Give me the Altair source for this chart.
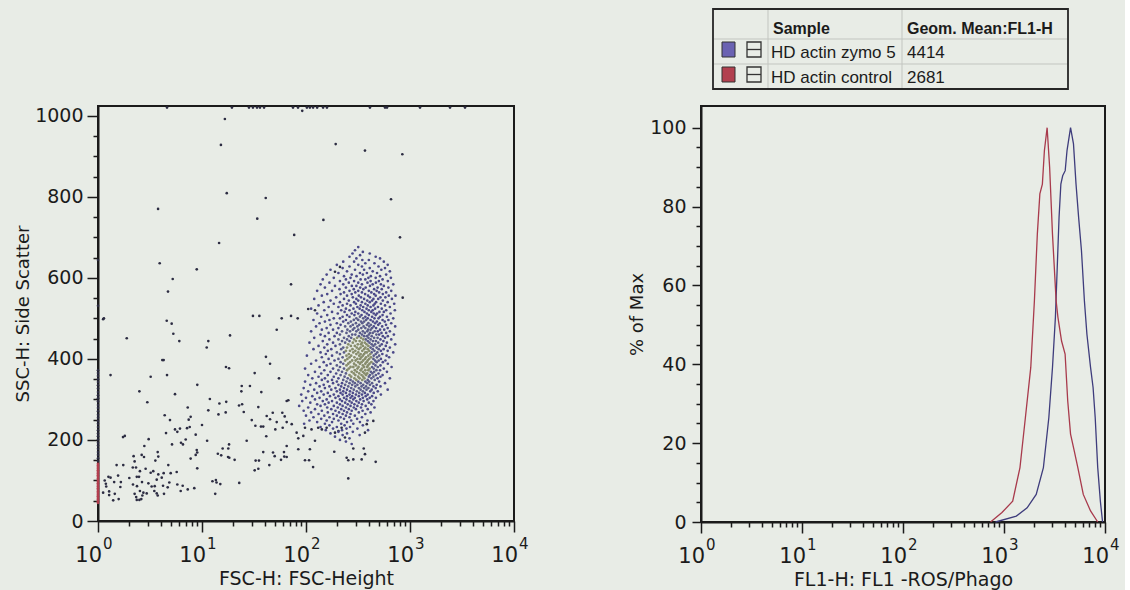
import altair as alt
import pandas as pd

# ---------------------------------------------------------------- data
# Left panel: isolated events (FSC-H, SSC-H)
SPARSE_EVENTS = [
    (16.6, 992), (15.2, 928), (17.3, 809), (41.0, 797), (3.78, 770), (34.0, 746), (14.6, 686),
    (3.92, 636), (8.9, 621), (5.23, 597), (4.71, 566), (92, 1012), (193, 930), (369, 914),
    (844, 905), (657, 794), (147, 743), (77, 706), (801, 700), (851, 551), (71.8, 584),
    (212, 627), (190, 615), (30.9, 506), (35.6, 506), (58.4, 500), (71.8, 506), (83.2, 500),
    (105, 523), (122, 520), (52.3, 472), (4.58, 494), (5.11, 487), (5.3, 462), (6.05, 444),
    (1.89, 451), (11.5, 444), (11.1, 428), (18.6, 458), (1.12, 498), (1.14, 500),
    (41.2, 405), (45.1, 388), (4.15, 397), (4.28, 397), (17.0, 380), (18.2, 377), (32.1, 365),
    (1.32, 360), (4.61, 360), (55.0, 352), (3.21, 356), (9.01, 336), (24.1, 333), (28.9, 333),
    (2.50, 320), (37.2, 318), (23.9, 320), (5.5, 313), (11.9, 301), (67.6, 298), (2.98, 293),
    (14.7, 290), (17.1, 294), (24.3, 288), (22.7, 285), (7.29, 280), (34.8, 281), (11.5, 273),
    (16.9, 268), (14.4, 263), (25.2, 269), (47.9, 267), (59.2, 267), (4.38, 261), (7.78, 257),
    (7.45, 250), (41.9, 259), (62.4, 258), (4.92, 249), (30.1, 249), (45.1, 251), (52.3, 244),
    (65.2, 244), (10.0, 237), (7.62, 232), (7.18, 229), (6.14, 228), (5.5, 226), (32.6, 235),
    (36.9, 233), (38.8, 233), (59.7, 230), (4.51, 217), (5.79, 220), (8.7, 213), (50.7, 226),
    (1.81, 210), (1.74, 207), (41.5, 209), (6.97, 201), (3.07, 202), (11.2, 198), (26.9, 198),
    (6.28, 193), (6.56, 189), (5.15, 189), (18.2, 189), (17.9, 179), (15.8, 179), (2.79, 185),
    (65.2, 185), (8.9, 175), (9.0, 169), (8.7, 163), (38.8, 170), (48.2, 169), (61.4, 170),
    (65.2, 158), (14.2, 166), (15.3, 162), (18.3, 156), (17.8, 158), (2.20, 160), (2.63, 163),
    (2.77, 158), (3.75, 170), (3.80, 159), (50.0, 160), (7.78, 154), (20.6, 151), (57.5, 151),
    (61.8, 159), (1.75, 138), (3.56, 149), (1.51, 138), (2.25, 147), (4.74, 138), (32.8, 149),
    (35.3, 149), (44.4, 138), (9.0, 130), (34.8, 129), (32.1, 125), (2.16, 132), (2.32, 132),
    (2.87, 129), (2.53, 123), (3.21, 119), (3.40, 123), (3.80, 115), (4.28, 118), (5.0, 118),
    (5.71, 121), (1.26, 109), (1.32, 107), (1.56, 112), (2.0, 106), (2.36, 109), (2.48, 109),
    (3.67, 102), (4.10, 107), (1.66, 96), (1.43, 96), (1.16, 100), (1.19, 92), (3.05, 93),
    (2.65, 96), (4.85, 95), (5.79, 90), (6.52, 87), (7.29, 78), (12.6, 98), (13.6, 101),
    (13.8, 95), (15.0, 91), (22.8, 94), (2.17, 90), (2.37, 86), (4.22, 87), (4.68, 83),
    (3.51, 86), (3.28, 85), (1.64, 84), (1.20, 85), (1.28, 73), (1.45, 67), (2.53, 74),
    (2.73, 70), (2.94, 68), (2.67, 63), (2.25, 67), (2.33, 59), (2.36, 52), (2.50, 52),
    (2.61, 54), (3.48, 74), (3.67, 68), (4.31, 67), (3.75, 63), (6.24, 74), (8.43, 81),
    (13.4, 67), (1.28, 64), (1.40, 51), (1.58, 54), (1.12, 70),
    (65.2, 296), (72.9, 239), (81.3, 218), (84.3, 204), (94.2, 210), (84.3, 177), (109, 177),
    (97.8, 150), (107, 150), (117, 133), (122, 198), (187, 171), (246, 156), (255, 150),
    (285, 152), (285, 179), (343, 152), (359, 179), (369, 165), (468, 146), (255, 105),
    (444, 247), (369, 218), (384, 239), (190, 218), (205, 222), (220, 230), (237, 206),
    (131, 230), (142, 226), (158, 230), (97.8, 230), (113, 226),
]

# events piled up at the top of the SSC range (off-scale, shown on the frame)
TOP_FSC = [4.61, 19.4, 28.3, 30.9, 33.8, 36.1, 39.5, 75, 83.8, 102, 109, 117, 128, 146, 159,
           412, 575, 601, 1248, 2426, 3380]
TOP_SSC = 1020

# events piled up at FSC = 1 (left edge of the plot)
EDGE_SSC = [644, 531, 372, 365, 358, 350, 343, 335, 327, 318, 310, 303, 295, 286, 279, 271,
            262, 255, 247, 240, 232, 224, 216, 209, 201, 193, 186, 178, 170, 163, 155, 148,
            141, 137, 133, 129, 125, 121, 117, 113, 109, 105, 101, 97, 93, 89, 85, 81, 77,
            73, 69, 65, 61, 57, 53, 49, 45]

# main cell population, read band by band (SSC-H, list of FSC-H)
CLUSTER_ROWS = [
    (676, [318]), (668, [296]), (664, [352]), (660, [280, 410]), (656, [331]),
    (652, [262, 468]), (648, [305, 515]), (644, [348, 402]), (640, [228, 290, 560]),
    (636, [372, 455]), (632, [198, 318, 610]), (628, [262, 345, 498]), (624, [225, 410, 575]),
    (620, [172, 296, 362, 530]), (616, [248, 438, 640]), (612, [205, 330, 385, 482]),
    (608, [158, 275, 352, 590]), (604, [232, 306, 420, 515]), (600, [185, 268, 398, 468, 655]),
    (596, [145, 242, 335, 372, 545]), (592, [212, 290, 418, 502, 612]),
    (588, [168, 258, 318, 390, 470]), (584, [138, 228, 345, 438, 525, 690]),
    (580, [190, 276, 305, 412, 560]), (576, [152, 242, 332, 375, 488, 620]),
    (572, [210, 288, 356, 452, 535]), (568, [128, 178, 262, 318, 402, 478, 660]),
    (564, [232, 298, 345, 425, 505, 590]), (560, [160, 215, 275, 370, 452, 548]),
    (556, [142, 248, 322, 395, 468, 625, 725]), (552, [195, 282, 338, 412, 520, 580]),
    (548, [120, 232, 305, 362, 445, 495, 670]), (544, [172, 258, 318, 388, 432, 548]),
    (540, [148, 212, 290, 345, 410, 472, 610]), (536, [185, 248, 302, 372, 458, 525, 705]),
    (532, [132, 225, 268, 335, 392, 445, 575]), (528, [165, 205, 312, 355, 418, 492, 640]),
    (524, [112, 242, 286, 328, 382, 462, 535]), (520, [150, 218, 262, 348, 402, 438, 590, 715]),
    (516, [178, 235, 298, 365, 425, 508, 560]), (512, [128, 202, 275, 318, 385, 448, 482, 650]),
    (508, [160, 248, 292, 342, 402, 468, 545]), (504, [140, 225, 262, 330, 372, 432, 515, 600]),
    (500, [185, 212, 305, 355, 392, 455, 498, 690]),
    (496, [118, 168, 242, 288, 318, 378, 418, 545, 620]),
    (492, [152, 228, 270, 338, 362, 440, 480, 572]),
    (488, [135, 198, 255, 302, 348, 398, 462, 512, 660]),
    (484, [172, 215, 282, 325, 385, 420, 495, 588]),
    (480, [125, 238, 268, 312, 358, 405, 448, 540, 720]),
    (476, [158, 205, 292, 340, 372, 432, 472, 610]),
    (472, [142, 182, 250, 282, 318, 395, 418, 515, 565]),
    (468, [112, 222, 265, 305, 352, 388, 458, 490, 640]),
    (464, [165, 198, 245, 330, 368, 412, 438, 532, 590]),
    (460, [138, 212, 278, 298, 345, 402, 475, 505, 700]),
    (456, [152, 188, 258, 322, 362, 385, 428, 548, 612]),
    (452, [120, 232, 272, 310, 338, 398, 452, 488, 575]),
    (448, [168, 205, 248, 290, 355, 375, 418, 520, 660]),
    (444, [145, 222, 262, 302, 328, 392, 440, 470, 555]),
    (440, [108, 182, 238, 282, 345, 368, 408, 495, 600]),
    (436, [160, 212, 255, 315, 338, 382, 428, 462, 535, 720]),
    (432, [132, 192, 270, 295, 352, 398, 445, 512, 585]),
    (428, [150, 228, 248, 308, 335, 372, 418, 478, 640]),
    (424, [118, 175, 218, 280, 322, 362, 392, 438, 500, 558]),
    (420, [162, 242, 265, 298, 348, 405, 455, 525, 610]),
    (416, [138, 198, 232, 285, 318, 372, 385, 428, 485, 690]),
    (412, [155, 212, 258, 305, 335, 362, 415, 468, 542]),
    (408, [102, 178, 245, 272, 325, 352, 398, 448, 505, 595]),
    (404, [142, 225, 262, 292, 340, 378, 422, 482, 630]),
    (400, [165, 205, 250, 312, 332, 368, 405, 445, 525]),
    (396, [125, 188, 238, 278, 300, 355, 392, 462, 500, 580]),
    (392, [148, 215, 265, 318, 342, 382, 425, 478, 548]),
    (388, [112, 172, 228, 255, 290, 330, 372, 408, 445, 612]),
    (384, [158, 198, 245, 302, 352, 395, 465, 520]),
    (380, [135, 212, 268, 285, 320, 362, 388, 432, 490, 665]),
    (376, [98, 182, 232, 258, 312, 345, 410, 448, 560]),
    (372, [150, 205, 248, 295, 335, 372, 398, 475, 515]),
    (368, [122, 172, 222, 275, 308, 352, 420, 452, 600]),
    (364, [140, 195, 242, 288, 325, 365, 388, 435, 498]),
    (360, [105, 162, 215, 262, 298, 342, 378, 412, 470, 545]),
    (356, [132, 185, 235, 272, 318, 355, 402, 445, 520]),
    (352, [115, 152, 205, 252, 292, 328, 365, 425, 488, 640]),
    (348, [142, 178, 228, 268, 305, 348, 392, 458]),
    (344, [98, 162, 198, 245, 282, 318, 372, 405, 505]),
    (340, [125, 182, 222, 262, 295, 335, 388, 432, 575]),
    (336, [110, 148, 205, 238, 278, 312, 355, 412, 478]),
    (332, [135, 168, 218, 255, 298, 342, 378, 445, 520]),
    (328, [95, 152, 192, 232, 272, 322, 362, 398, 468]),
    (324, [120, 175, 212, 248, 288, 335, 382, 428, 610]),
    (320, [105, 140, 198, 228, 265, 308, 352, 415, 490]),
    (316, [128, 162, 215, 242, 282, 325, 368, 448]),
    (312, [90, 148, 185, 225, 262, 302, 345, 392, 525]),
    (308, [115, 170, 205, 248, 278, 322, 375, 432]),
    (304, [100, 135, 192, 232, 268, 295, 352, 410, 470]),
    (300, [122, 158, 212, 245, 285, 332, 388]),
    (296, [92, 145, 178, 222, 262, 305, 358, 445]),
    (292, [110, 165, 198, 238, 275, 322, 402]),
    (288, [128, 152, 212, 252, 292, 345, 425]),
    (284, [86, 138, 185, 225, 268, 312, 375]),
    (280, [105, 160, 202, 242, 288, 338, 455]),
    (276, [122, 175, 218, 258, 302, 392]),
    (272, [95, 142, 192, 232, 275, 350]),
    (268, [112, 162, 208, 248, 322, 418]),
    (264, [132, 182, 225, 268, 372]),
    (260, [100, 150, 198, 242, 295]),
    (256, [118, 168, 215, 262, 345]),
    (252, [140, 185, 232, 310]),
    (248, [108, 158, 205, 272, 390]),
    (244, [128, 178, 248, 330]),
    (240, [96, 152, 218, 285]),
    (236, [168, 235, 352]), (232, [138, 198, 265]), (228, [182, 245, 312]),
    (224, [155, 222, 395]), (220, [205, 282]), (216, [172, 248]), (212, [225, 328]),
    (208, [190]), (204, [262]), (200, [212]), (196, [242]), (190, [275]),
]

# Right panel: histograms (FL1-H, % of Max)
SAMPLES = ["HD actin zymo 5", "HD actin control"]
GEO_MEANS = [4414, 2681]
FL1_ZYMO = [824, 1324, 1694, 2084, 2455, 2780, 3020, 3228, 3365, 3508, 3656, 3811, 4036, 4207,
            4560, 4875, 5164, 5483, 5848, 6252, 6622, 7194, 7621, 7998, 8472, 8995, 9462]
PCT_ZYMO = [0, 1.5, 3.6, 7.0, 13.8, 26.5, 39.2, 51.9, 64.5, 77.2, 85.7, 87.8, 89.1, 94.2,
            100, 95.9, 85.7, 77.2, 68.8, 56.1, 47.6, 39.2, 34.1, 26.5, 13.8, 5.3, 0]
FL1_CTRL = [736, 955, 1219, 1439, 1629, 1841, 2000, 2138, 2265, 2399, 2512, 2673, 2831, 3020,
            3281, 3420, 3715, 4027, 4276, 4560, 4966, 5383, 6095, 7194, 8472]
PCT_CTRL = [0, 2.4, 5.3, 13.8, 26.5, 39.2, 56.1, 73.0, 83.2, 85.7, 94.2, 100, 89.9, 73.0,
            56.1, 51.9, 45.9, 42.6, 30.7, 22.3, 18.0, 13.8, 7.0, 2.8, 0]

HEADER = ["Sample", "Geom. Mean:FL1-H"]
DECADES = [1, 10, 100, 1000, 10000]
EXPONENTS = ["0", "1", "2", "3", "4"]
LOG_TICKS = [1, 2, 3, 4, 5, 6, 7, 8, 9, 10, 20, 30, 40, 50, 60, 70, 80, 90,
             100, 200, 300, 400, 500, 600, 700, 800, 900,
             1000, 2000, 3000, 4000, 5000, 6000, 7000, 8000, 9000, 10000]
SSC_TICKS = [0, 50, 100, 150, 200, 250, 300, 350, 400, 450, 500, 550, 600, 650, 700, 750,
             800, 850, 900, 950, 1000]
PCT_TICKS = [0, 5, 10, 15, 20, 25, 30, 35, 40, 45, 50, 55, 60, 65, 70, 75, 80, 85, 90, 95, 100]

# ---------------------------------------------------------------- style
FONT = "DejaVu Sans"
TFONT = "Liberation Sans"
INK = "#1b1b1b"
BG = "#e8ece6"
W1, H1 = 416, 415
W2, H2 = 404, 416
LINE_COLORS = ["#3e3c7c", "#a83a4c"]
SWATCH_COLORS = ["#6a62b2", "#b2404f"]
TIERS = ["sparse", "cluster", "ring", "core", "red"]
TIER_COLORS = ["#2c2c42", "#4b4989", "#5a5c8a", "#878c6c", "#b23e4e"]
TIER_SIZES = [7, 8, 9, 9, 7]

# ---------------------------------------------------------------- frames
rows = [{"fsc": f, "ssc": s, "grp": "sparse"} for f, s in SPARSE_EVENTS]
rows += [{"fsc": f, "ssc": TOP_SSC, "grp": "sparse"} for f in TOP_FSC]
rows += [{"fsc": 1, "ssc": s, "grp": "edge"} for s in EDGE_SSC]
for s, fs in CLUSTER_ROWS:
    rows += [{"fsc": f, "ssc": s, "grp": "cluster"} for f in fs]
scat_df = pd.DataFrame(rows)

hist_df = pd.concat([
    pd.DataFrame({"sample": SAMPLES[0], "fl1": FL1_ZYMO, "pct": PCT_ZYMO}),
    pd.DataFrame({"sample": SAMPLES[1], "fl1": FL1_CTRL, "pct": PCT_CTRL}),
])
leg_df = pd.DataFrame({"sample": SAMPLES, "gm": GEO_MEANS})
dec_df = pd.DataFrame({"v": DECADES, "e": EXPONENTS})
one = pd.DataFrame({"k": [0]})

XS = alt.Scale(type="log", domain=[1, 10000], nice=False)
MAJOR_TEST = "indexof([1,10,100,1000,10000], datum.value) >= 0"


def log_axis(title):
    return alt.Axis(values=LOG_TICKS, labels=False, grid=False,
                    tickSize={"condition": {"test": MAJOR_TEST, "value": 11}, "value": 5},
                    tickWidth=1.5, tickColor=INK, domainColor=INK, domainWidth=2,
                    title=title, titleFont=FONT, titleFontSize=19, titleFontWeight="normal",
                    titleColor=INK, titlePadding=37)


def decade_labels(H, axis):
    base = alt.Chart(dec_df).mark_text(
        text="10", align="right", baseline="alphabetic", dx=4, font=FONT, fontSize=21, color=INK
    ).encode(x=alt.X("v:Q", scale=XS, axis=axis), y=alt.value(H + 41))
    sup = alt.Chart(dec_df).mark_text(
        align="left", baseline="alphabetic", dx=5, font=FONT, fontSize=15, color=INK
    ).encode(x=alt.X("v:Q", scale=XS, axis=axis), y=alt.value(H + 28), text="e:N")
    return [base, sup]


def lin_axis(values, major_mod, major_len, title, pad, tpad):
    return alt.Axis(values=values, format="d", grid=False,
                    labelExpr=f"datum.value % {major_mod} == 0 ? datum.label : ''",
                    tickSize={"condition": {"test": f"datum.value % {major_mod} == 0",
                                            "value": major_len}, "value": 5},
                    tickWidth=1.5, tickColor=INK, domainColor=INK, domainWidth=2,
                    labelFont=FONT, labelFontSize=19, labelColor=INK, labelPadding=pad,
                    title=title, titleFont=FONT, titleFontSize=18, titleFontWeight="normal",
                    titleColor=INK, titlePadding=tpad)


# ---------------------------------------------------------------- left panel
ax1 = log_axis("FSC-H: FSC-Height")
tier_expr = (
    "datum.grp == 'edge' ? (datum.ssc < 145 ? 'red' : 'sparse') : "
    "datum.grp == 'cluster' ? ("
    "(pow((log(datum.fsc)/LN10 - 2.50)/0.13, 2) + pow((datum.ssc - 400)/55, 2) < 1) ? 'core' : "
    "(pow((log(datum.fsc)/LN10 - 2.50)/0.22, 2) + pow((datum.ssc - 410)/95, 2) < 1) ? 'ring' : 'cluster'"
    ") : 'sparse'"
)
rank_expr = ("datum.tier == 'core' ? 4 : datum.tier == 'ring' ? 3 : "
             "datum.tier == 'cluster' ? 2 : datum.tier == 'red' ? 5 : 1")

scatter = alt.Chart(scat_df).transform_calculate(tier=tier_expr).transform_calculate(
    rank=rank_expr
).mark_circle(opacity=1).encode(
    x=alt.X("fsc:Q", scale=XS, axis=ax1),
    y=alt.Y("ssc:Q", scale=alt.Scale(domain=[0, 1024], nice=False, zero=False),
            axis=lin_axis(SSC_TICKS, 200, 11, "SSC-H: Side Scatter", 4, 2)),
    color=alt.Color("tier:N", legend=None, scale=alt.Scale(domain=TIERS, range=TIER_COLORS)),
    size=alt.Size("tier:N", legend=None, scale=alt.Scale(domain=TIERS, range=TIER_SIZES)),
    order=alt.Order("rank:Q"),
)
left = alt.layer(scatter, *decade_labels(H1, ax1)).properties(width=W1, height=H1)

# ---------------------------------------------------------------- right panel
ax2 = log_axis("FL1-H: FL1 -ROS/Phago")
lines = alt.Chart(hist_df).mark_line(strokeWidth=1.3).encode(
    x=alt.X("fl1:Q", scale=XS, axis=ax2),
    y=alt.Y("pct:Q", scale=alt.Scale(domain=[0, 105.5], nice=False),
            axis=lin_axis(PCT_TICKS, 20, 9, "% of Max", 6, 3)),
    color=alt.Color("sample:N", scale=alt.Scale(domain=SAMPLES, range=LINE_COLORS), legend=None),
)

GRID = "#c2c5c0"
table = [
    alt.Chart(one).mark_rect(fillOpacity=0, stroke="#262626", strokeWidth=1.8).encode(
        x=alt.value(12), x2=alt.value(367), y=alt.value(-97), y2=alt.value(-17)),
]
for yy in (-67, -42):
    table.append(alt.Chart(one).mark_rule(color=GRID, strokeWidth=1).encode(
        x=alt.value(13), x2=alt.value(366), y=alt.value(yy)))
for xx in (67, 201):
    table.append(alt.Chart(one).mark_rule(color=GRID, strokeWidth=1).encode(
        x=alt.value(xx), y=alt.value(-96), y2=alt.value(-18)))
hdr_df = pd.DataFrame({"h": HEADER})
for i, xx in enumerate((72, 206)):
    table.append(alt.Chart(hdr_df.iloc[[i]]).mark_text(
        align="left", baseline="alphabetic", font=TFONT, fontSize=16, fontWeight="bold", color=INK
    ).encode(x=alt.value(xx), y=alt.value(-72), text="h:N"))
for i in range(len(SAMPLES)):
    yb = -48 + 25 * i
    d = leg_df.iloc[[i]]
    table += [
        alt.Chart(d).mark_text(align="left", baseline="alphabetic", font=TFONT, fontSize=17,
                               color=INK).encode(x=alt.value(70), y=alt.value(yb), text="sample:N"),
        alt.Chart(d).mark_text(align="left", baseline="alphabetic", font=TFONT, fontSize=17,
                               color=INK).encode(x=alt.value(206), y=alt.value(yb),
                                                 text=alt.Text("gm:Q", format="d")),
        alt.Chart(d).mark_rect(fill=SWATCH_COLORS[i], stroke="#333333", strokeWidth=1).encode(
            x=alt.value(21), x2=alt.value(34), y=alt.value(yb - 16), y2=alt.value(yb - 1)),
        alt.Chart(d).mark_rect(fillOpacity=0, stroke="#333333", strokeWidth=1.3).encode(
            x=alt.value(46), x2=alt.value(60), y=alt.value(yb - 16), y2=alt.value(yb - 1)),
        alt.Chart(d).mark_rule(color="#333333", strokeWidth=1.3).encode(
            x=alt.value(46), x2=alt.value(60), y=alt.value(yb - 8.5)),
    ]

right = alt.layer(lines, *decade_labels(H2, ax2), *table).properties(width=W2, height=H2)

chart = alt.hconcat(left, right, spacing=187, bounds="flush").resolve_scale(
    color="independent", size="independent"
).properties(
    padding={"left": 13, "top": 7, "right": 4, "bottom": 0}
).configure(background=BG).configure_view(stroke=INK, strokeWidth=2)

chart.save("out.html", embed_options={"renderer": "svg", "actions": False})
